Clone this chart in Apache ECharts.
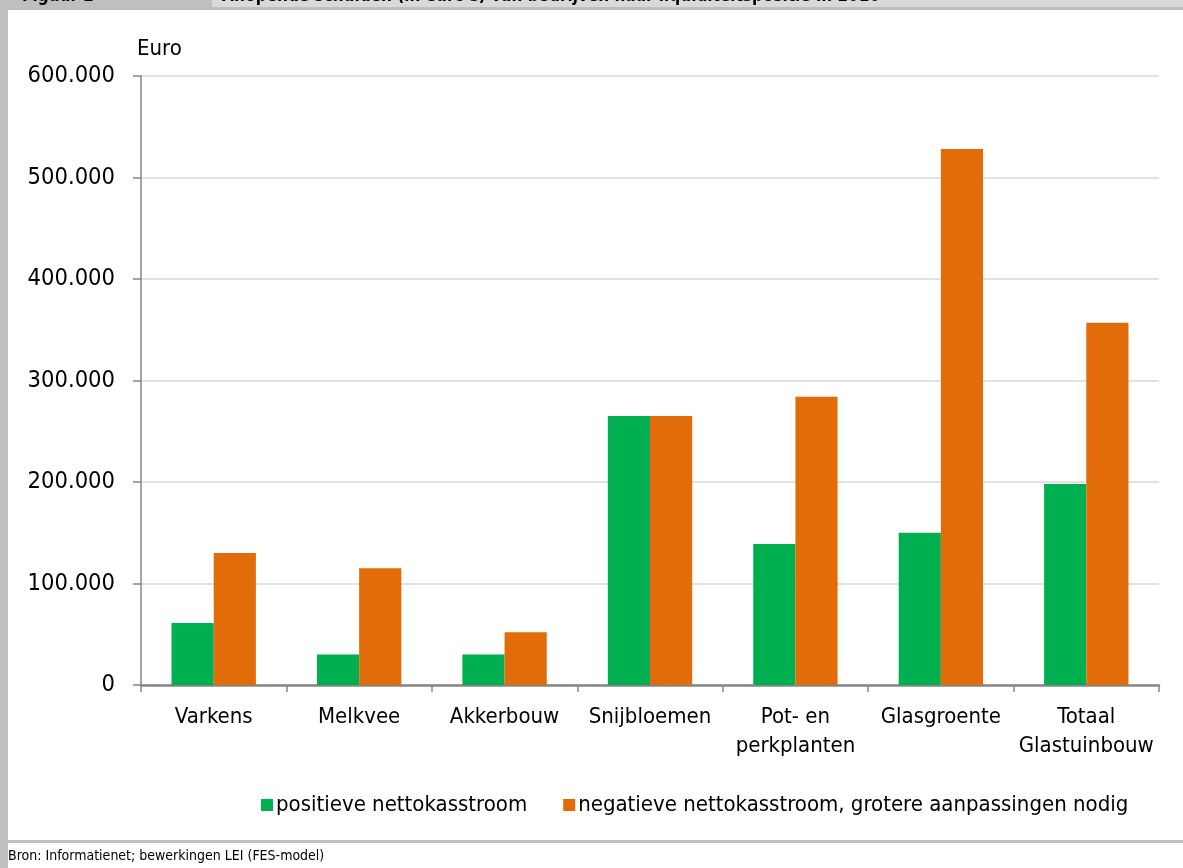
<!DOCTYPE html>
<html>
<head>
<meta charset="utf-8">
<style>
html,body{margin:0;padding:0;background:#fff;}
#chart{width:1183px;height:868px;}
</style>
<script src="https://cdn.jsdelivr.net/npm/echarts@6/dist/echarts.min.js"></script>
</head>
<body>
<div id="chart"></div>
<script>
const categories = ['Varkens', 'Melkvee', 'Akkerbouw', 'Snijbloemen', 'Pot- en\nperkplanten', 'Glasgroente', 'Totaal\nGlastuinbouw'];
const positief = [61000, 30000, 30000, 265000, 139000, 150000, 198000];
const negatief = [130000, 115000, 52000, 265000, 284000, 528000, 357000];
const seriesNames = ['positieve nettokasstroom', 'negatieve nettokasstroom, grotere aanpassingen nodig'];
const yTicks = { min: 0, max: 600000, interval: 100000 };
const titleText = 'Figuur 2';
const subtitleText = "Aflopende schulden (in euro's) van bedrijven naar liquiditeitspositie in 2010";
const sourceText = 'Bron: Informatienet; bewerkingen LEI (FES-model)';

const FONT = "'Liberation Sans Narrow', 'DejaVu Sans Condensed', 'Roboto Condensed', 'Liberation Sans', sans-serif";
const AXIS = '#868686';

function fmt(v){
  return String(v).replace(/\B(?=(\d{3})+(?!\d))/g, '.');
}

const chart = echarts.init(document.getElementById('chart'), null, {renderer:'canvas'});
chart.setOption({
  animation: false,
  backgroundColor: '#ffffff',
  textStyle: { fontFamily: FONT, color: '#000' },
  grid: { left: 141, right: 24, top: 76, bottom: 183, containLabel: false },
  legend: {
    bottom: 47,
    left: 256,
    itemWidth: 12,
    itemHeight: 12,
    itemGap: 36,
    icon: 'rect',
    textStyle: { fontFamily: FONT, fontSize: 22, color: '#000', padding: [0,0,0,-2] },
    data: seriesNames
  },
  xAxis: {
    type: 'category',
    data: categories,
    axisLine: { lineStyle: { color: AXIS, width: 2.5 } },
    axisTick: { show: true, length: 7, alignWithLabel: false, lineStyle: { color: AXIS, width: 1.5 } },
    axisLabel: { fontFamily: FONT, fontSize: 22, color: '#000', margin: 18, lineHeight: 29, interval: 0 }
  },
  yAxis: {
    type: 'value',
    min: yTicks.min, max: yTicks.max, interval: yTicks.interval,
    name: 'Euro',
    nameLocation: 'end',
    nameGap: 16,
    nameTextStyle: { fontFamily: FONT, fontSize: 22, color: '#000', align: 'left', padding: [0,0,0,-4] },
    axisLine: { show: true, lineStyle: { color: AXIS, width: 1.5 } },
    axisTick: { show: true, length: 8, lineStyle: { color: AXIS, width: 1.5 } },
    axisLabel: { fontFamily: FONT, fontSize: 23.5, color: '#000', margin: 26, formatter: fmt },
    splitLine: { lineStyle: { color: '#d9d9d9', width: 1.5 } }
  },
  series: [
    { name: seriesNames[0], type: 'bar', data: positief, barGap: '0%', barCategoryGap: '42%',
      itemStyle: { color: '#00AF50' } },
    { name: seriesNames[1], type: 'bar', data: negatief, barGap: '0%', barCategoryGap: '42%',
      itemStyle: { color: '#E36C0A' } }
  ],
  graphic: [
    { type: 'rect', shape: { x: 0, y: 0, width: 1183, height: 7 }, style: { fill: '#d9d9d9' }, silent: true },
    { type: 'rect', shape: { x: 0, y: 0, width: 212, height: 10 }, style: { fill: '#bfbfbf' }, silent: true },
    { type: 'rect', shape: { x: 212, y: 7, width: 971, height: 3 }, style: { fill: '#bfbfbf' }, silent: true },
    { type: 'rect', shape: { x: 0, y: 0, width: 8, height: 868 }, style: { fill: '#bfbfbf' }, silent: true },
    { type: 'rect', shape: { x: 0, y: 840, width: 1183, height: 3 }, style: { fill: '#bfbfbf' }, silent: true },
    { type: 'text', left: 22, top: -12, style: { text: titleText, font: "bold 17px " + FONT, fill: '#000' }, silent: true },
    { type: 'text', left: 222, top: -12, style: { text: subtitleText, font: "bold 17px " + FONT, fill: '#000' }, silent: true },
    { type: 'text', left: 8, top: 849, style: { text: sourceText, font: "14px " + FONT, fill: '#000' }, silent: true }
  ]
});
</script>
</body>
</html>
